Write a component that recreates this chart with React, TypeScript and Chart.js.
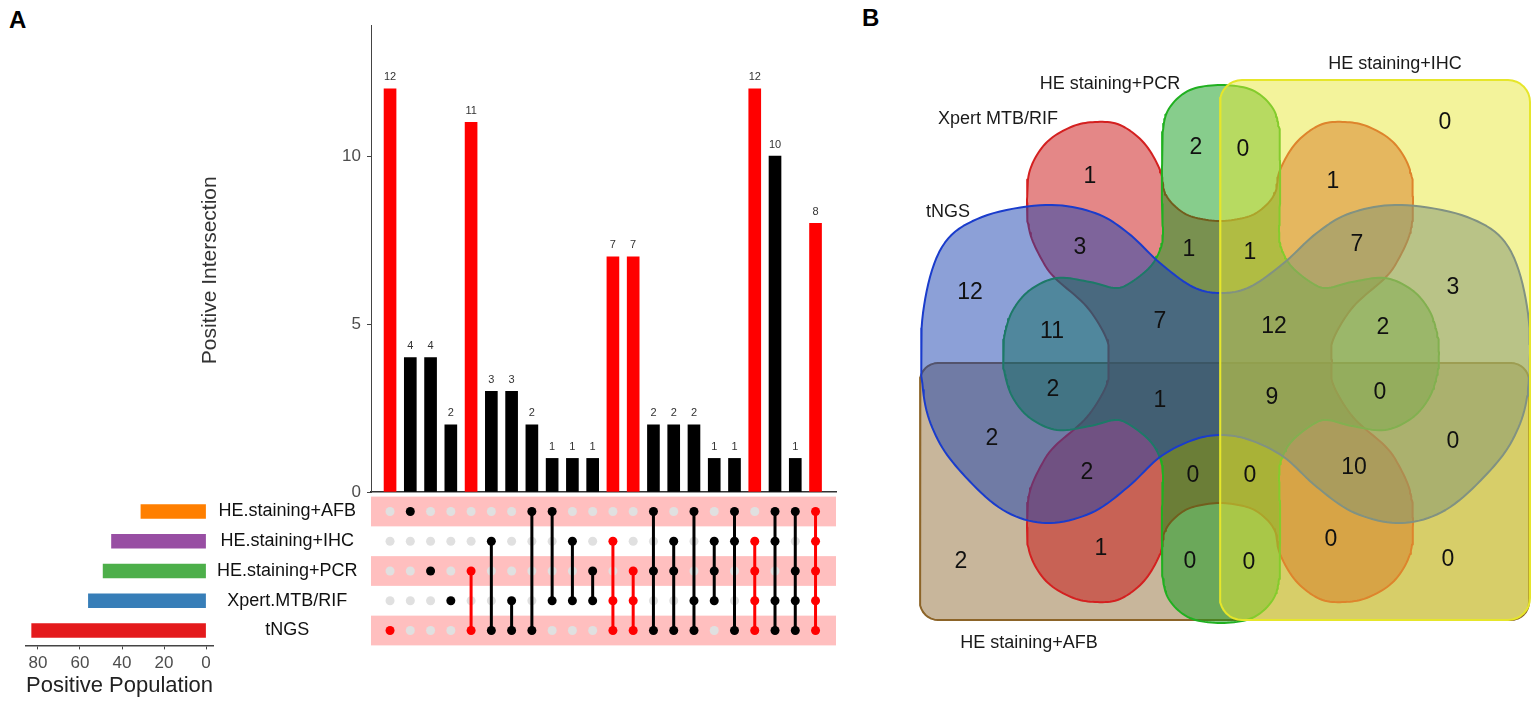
import React, { useEffect, useRef } from "react";
import { Chart, registerables } from "chart.js";

Chart.register(...registerables);

const FONT = '"Liberation Sans", Arial, Helvetica, sans-serif';
Chart.defaults.font.family = FONT;

// ---------------- Panel A: UpSet data ----------------
const setNames = ["HE.staining+AFB", "HE.staining+IHC", "HE.staining+PCR", "Xpert.MTB/RIF", "tNGS"];
const setSizes = [31, 45, 49, 56, 83];
const setColors = ["#ff7f00", "#984ea3", "#4daf4a", "#377eb8", "#e41a1c"];
const sizeTicks = [0, 20, 40, 60, 80];

const intersectionCounts = [12, 4, 4, 2, 11, 3, 3, 2, 1, 1, 1, 7, 7, 2, 2, 2, 1, 1, 12, 10, 1, 8];
// row indices into setNames for each intersection column
const intersectionMembers = [
  [4], [0], [2], [3], [2, 4], [1, 4], [3, 4], [0, 4], [0, 3], [1, 3], [2, 3],
  [1, 3, 4], [2, 3, 4], [0, 2, 4], [1, 2, 4], [0, 3, 4], [1, 2, 3], [0, 1, 4],
  [1, 2, 3, 4], [0, 1, 3, 4], [0, 2, 3, 4], [0, 1, 2, 3, 4],
];
const highlighted = [
  true, false, false, false, true, false, false, false, false, false, false,
  true, true, false, false, false, false, false, true, false, false, true,
];
const countTicks = [0, 5, 10];

// ---------------- Panel B: Venn data ----------------
const vennSetNames = ["tNGS", "Xpert MTB/RIF", "HE staining+PCR", "HE staining+IHC", "HE staining+AFB"];
const vennRegionSets = [
  "I", "P", "PI", "X", "XI", "TX", "XP", "XPI", "TXI", "T", "TI", "TP", "TXP", "TXPI", "TPI",
  "TPA", "TXPA", "TXPIA", "TPIA", "TA", "TIA", "TXA", "XPA", "XPIA", "TXIA", "A", "XA", "PA",
  "PIA", "XIA", "IA",
];
const vennRegionCounts = [
  0, 2, 0, 1, 1, 3, 1, 1, 7, 12, 3, 11, 7, 12, 2,
  2, 1, 9, 0, 2, 0, 2, 0, 0, 10, 2, 1, 0,
  0, 0, 0,
];

// ---------------- layout (venn geometry, label anchors) ----------------
const vennLabelPos = [
  [225, 239], [-24, 214], [23, 212], [-130, 185], [113, 180], [-140, 114], [-31, 112], [30, 109],
  [137, 117], [-250, 69], [233, 74], [-168, 30], [-60, 40], [54, 35], [163, 34],
  [-167, -28], [-60, -39], [52, -36], [160, -31], [-228, -77], [233, -80], [-133, -111],
  [-27, -114], [30, -114], [134, -106], [-259, -200], [-119, -187], [-30, -200],
  [29, -201], [111, -178], [228, -198],
];
const vennSetLabelPos = [[-272, 150], [-222, 243], [-110, 278], [175, 298], [-191, -281]];

const redQuadrant = [
  [0, 141], [-27, 145], [-43, 154], [-55, 169], [-60, 192], [-76, 219], [-100, 237], [-125, 240],
  [-149, 235], [-174, 219], [-190, 192], [-193, 159], [-190, 129], [-178, 102], [-165, 84],
  [-133, 55], [-113, 22], [-112, 0],
];
const greenQuadrant = [
  [0, 269], [-31, 264], [-51, 247], [-58, 225], [-59, 190], [-59, 150], [-58, 121], [-61, 104],
  [-71, 87], [-91, 71], [-106, 66], [-131, 72], [-164, 76], [-191, 64], [-208, 44], [-216, 21],
  [-218, 0],
];
const blueHalf = [
  [0, 71], [-28, 77], [-61, 101], [-93, 131], [-126, 151], [-175, 159], [-239, 147], [-279, 117],
  [-298, 51], [-298, -26], [-285, -72], [-259, -109], [-218, -146], [-175, -159], [-130, -149],
  [-93, -123], [-61, -93], [-28, -76], [0, -71],
];

type P = { x: number; y: number };

function mirrorQuadrant(q: number[][]): number[][] {
  const bl = q.slice().reverse().slice(1).map(([x, y]) => [x, -y]);
  const br = q.slice(1).map(([x, y]) => [-x, -y]);
  const tr = q.slice().reverse().slice(1, -1).map(([x, y]) => [-x, y]);
  return [...q, ...bl, ...br, ...tr];
}

function mirrorHalf(h: number[][], rightScale: number): number[][] {
  const right = h.slice(1, -1).reverse().map(([x, y]) => [-x * rightScale, y]);
  return [...h, ...right];
}

function smoothClosed(pts: number[][], dx: number, dy: number, n = 10): P[] {
  const out: P[] = [];
  const L = pts.length;
  for (let i = 0; i < L; i++) {
    const p0 = pts[(i - 1 + L) % L], p1 = pts[i], p2 = pts[(i + 1) % L], p3 = pts[(i + 2) % L];
    for (let k = 0; k < n; k++) {
      const t = k / n, t2 = t * t, t3 = t2 * t;
      const f = (j: number) =>
        0.5 * (2 * p1[j] + (-p0[j] + p2[j]) * t + (2 * p0[j] - 5 * p1[j] + 4 * p2[j] - p3[j]) * t2 +
          (-p0[j] + 3 * p1[j] - 3 * p2[j] + p3[j]) * t3);
      out.push({ x: f(0) + dx, y: f(1) + dy });
    }
  }
  out.push({ ...out[0] });
  return out;
}

function roundedRect(x0: number, y0: number, x1: number, y1: number, r: number): P[] {
  const pts: P[] = [];
  const corners = [[x1 - r, y1 - r, 0], [x0 + r, y1 - r, 90], [x0 + r, y0 + r, 180], [x1 - r, y0 + r, 270]];
  for (const [cx, cy, a0] of corners) {
    for (let k = 0; k <= 8; k++) {
      const a = ((a0 + (k * 90) / 8) * Math.PI) / 180;
      pts.push({ x: cx + r * Math.cos(a), y: cy + r * Math.sin(a) });
    }
  }
  pts.push({ ...pts[0] });
  return pts;
}

// ---------------- plugins ----------------
const barValuesPlugin = {
  id: "barValues",
  afterDatasetsDraw(chart: any) {
    const ctx = chart.ctx;
    const meta = chart.getDatasetMeta(0);
    ctx.save();
    ctx.font = `11px ${FONT}`;
    ctx.fillStyle = "#333";
    ctx.textAlign = "center";
    ctx.textBaseline = "bottom";
    meta.data.forEach((el: any, i: number) => {
      ctx.fillText(String(intersectionCounts[i]), el.x, el.y - 6);
    });
    ctx.restore();
  },
};

const yTitlePlugin = {
  id: "yTitle",
  afterDraw(chart: any) {
    const { ctx, chartArea, scales } = chart;
    const cx = chartArea.left - 161;
    const cy = scales.y.getPixelForValue(6.6);
    ctx.save();
    ctx.translate(cx, cy);
    ctx.rotate(-Math.PI / 2);
    ctx.font = `21px ${FONT}`;
    ctx.fillStyle = "#333";
    ctx.textAlign = "center";
    ctx.textBaseline = "middle";
    ctx.fillText("Positive Intersection", 0, 0);
    ctx.restore();
  },
};

const bandsPlugin = {
  id: "bands",
  beforeDatasetsDraw(chart: any) {
    const { ctx, chartArea, scales } = chart;
    ctx.save();
    ctx.fillStyle = "rgba(255, 0, 0, 0.25)";
    setNames.forEach((_, r) => {
      if (r % 2 !== 0) return;
      const y0 = scales.y.getPixelForValue(r - 0.5);
      const y1 = scales.y.getPixelForValue(r + 0.5);
      ctx.fillRect(chartArea.left, Math.min(y0, y1), chartArea.right - chartArea.left, Math.abs(y1 - y0));
    });
    ctx.restore();
  },
};

const vennTextPlugin = {
  id: "vennText",
  afterDatasetsDraw(chart: any) {
    const { ctx, scales } = chart;
    const px = (v: number) => scales.x.getPixelForValue(v);
    const py = (v: number) => scales.y.getPixelForValue(v);
    ctx.save();
    ctx.textAlign = "center";
    ctx.textBaseline = "middle";
    ctx.fillStyle = "#111";
    ctx.font = `23px ${FONT}`;
    vennRegionCounts.forEach((v, i) => {
      ctx.fillText(String(v), px(vennLabelPos[i][0]), py(vennLabelPos[i][1]));
    });
    ctx.font = `18px ${FONT}`;
    ctx.fillStyle = "#1a1a1a";
    vennSetNames.forEach((s, i) => {
      ctx.fillText(s, px(vennSetLabelPos[i][0]), py(vennSetLabelPos[i][1]));
    });
    ctx.restore();
  },
};

const X_MIN = -0.94;
const X_MAX = 22.01;

export default function App() {
  const barRef = useRef<HTMLCanvasElement>(null);
  const matRef = useRef<HTMLCanvasElement>(null);
  const setRef = useRef<HTMLCanvasElement>(null);
  const vennRef = useRef<HTMLCanvasElement>(null);

  useEffect(() => {
    const charts: Chart[] = [];

    // ---- intersection bars ----
    charts.push(
      new Chart(barRef.current as HTMLCanvasElement, {
        type: "bar",
        data: {
          datasets: [
            {
              data: intersectionCounts.map((v, i) => ({ x: i, y: v })),
              backgroundColor: intersectionCounts.map((_, i) => (highlighted[i] ? "#ff0000" : "#000000")),
              barThickness: 12,
              borderWidth: 0,
            } as any,
          ],
        },
        options: {
          animation: false,
          responsive: false,
          events: [],
          layout: { padding: { top: 15, right: 9, bottom: 8, left: 0 } },
          plugins: { legend: { display: false }, tooltip: { enabled: false } },
          scales: {
            x: {
              type: "linear",
              min: X_MIN,
              max: X_MAX,
              offset: false,
              grid: { display: false },
              ticks: { display: false },
              border: { display: true, color: "#333", width: 1.5 },
              afterFit: (a: any) => {
                a.height = 0;
              },
            },
            y: {
              type: "linear",
              min: 0,
              max: 13.9,
              afterBuildTicks: (a: any) => {
                a.ticks = countTicks.map((v) => ({ value: v }));
              },
              ticks: { color: "#4d4d4d", font: { family: FONT, size: 17 }, padding: 6 },
              grid: { display: true, drawOnChartArea: false, drawTicks: true, tickLength: 4, color: "#444" },
              border: { display: true, color: "#444", width: 1 },
              afterFit: (a: any) => {
                a.width = 191;
                a.paddingTop = 0;
                a.paddingBottom = 0;
              },
            },
          } as any,
        },
        plugins: [barValuesPlugin, yTitlePlugin],
      })
    );

    // ---- matrix ----
    const grayPts: P[] = [];
    const memberPts: P[] = [];
    const memberColors: string[] = [];
    intersectionMembers.forEach((m, c) => {
      setNames.forEach((_, r) => {
        if (m.includes(r)) {
          memberPts.push({ x: c, y: r });
          memberColors.push(highlighted[c] ? "#ff0000" : "#000000");
        } else {
          grayPts.push({ x: c, y: r });
        }
      });
    });
    const lineSets: any[] = [];
    intersectionMembers.forEach((m, c) => {
      if (m.length < 2) return;
      const col = highlighted[c] ? "#ff0000" : "#000000";
      lineSets.push({
        data: [
          { x: c, y: Math.min(...m) },
          { x: c, y: Math.max(...m) },
        ],
        borderColor: col,
        borderWidth: 3,
        pointRadius: 0,
        showLine: true,
        fill: false,
        order: 2,
      });
    });
    charts.push(
      new Chart(matRef.current as HTMLCanvasElement, {
        type: "line",
        data: {
          datasets: [
            {
              data: grayPts,
              showLine: false,
              pointRadius: 4.5,
              pointBackgroundColor: "#e0e0e0",
              pointBorderWidth: 0,
              order: 3,
            } as any,
            ...lineSets,
            {
              data: memberPts,
              showLine: false,
              pointRadius: 4.5,
              pointBackgroundColor: memberColors,
              pointBorderWidth: 0,
              order: 1,
            } as any,
          ],
        },
        options: {
          animation: false,
          responsive: false,
          events: [],
          layout: { padding: { top: 6.6, right: 9, bottom: 4.6, left: 191 } },
          plugins: { legend: { display: false }, tooltip: { enabled: false } },
          scales: {
            x: { type: "linear", min: X_MIN, max: X_MAX, display: false },
            y: { type: "linear", min: -0.5, max: 4.5, reverse: true, display: false },
          },
        },
        plugins: [bandsPlugin],
      })
    );

    // ---- set sizes ----
    charts.push(
      new Chart(setRef.current as HTMLCanvasElement, {
        type: "bar",
        data: {
          labels: setNames,
          datasets: [
            { data: setSizes, backgroundColor: setColors, barThickness: 14, borderWidth: 0 } as any,
          ],
        },
        options: {
          indexAxis: "y",
          animation: false,
          responsive: false,
          events: [],
          layout: { padding: { top: 6.6, right: 0, bottom: 0, left: 26 } },
          plugins: { legend: { display: false }, tooltip: { enabled: false } },
          scales: {
            x: {
              type: "linear",
              reverse: true,
              min: -3.3,
              max: 85.7,
              afterBuildTicks: (a: any) => {
                a.ticks = sizeTicks.map((v) => ({ value: v }));
              },
              ticks: { color: "#4d4d4d", font: { family: FONT, size: 17 }, padding: 4, maxRotation: 0 },
              grid: { display: true, drawOnChartArea: false, drawTicks: true, tickLength: 4, color: "#444" },
              border: { display: true, color: "#444", width: 1.5 },
              title: {
                display: true,
                text: "Positive Population",
                color: "#222",
                font: { family: FONT, size: 22 },
                padding: { top: 0, bottom: 3 },
              },
              afterFit: (a: any) => {
                a.height = 56.6;
                a.paddingLeft = 0;
                a.paddingRight = 0;
              },
            },
            y: {
              type: "category",
              position: "right",
              grid: { display: false, drawTicks: false },
              border: { display: false },
              ticks: { crossAlign: "center", padding: 4, color: "#111", font: { family: FONT, size: 18 } },
              afterFit: (a: any) => {
                a.width = 157;
                a.paddingTop = 0;
                a.paddingBottom = 0;
              },
            },
          } as any,
        },
      })
    );

    // ---- venn ----
    const afb = roundedRect(-300, -258, 309, -1, 18);
    const ihc = roundedRect(0, -258, 310, 282, 22);
    const red = smoothClosed(mirrorQuadrant(redQuadrant), 0, 0);
    const green = smoothClosed(mirrorQuadrant(greenQuadrant), 1, 8);
    const blue = smoothClosed(mirrorHalf(blueHalf, 1.03), 1, -2);
    const shape = (data: P[], fillC: string, lineC: string, order: number) => ({
      data,
      fill: "shape",
      backgroundColor: fillC,
      borderColor: lineC,
      borderWidth: 2,
      borderJoinStyle: "round",
      pointRadius: 0,
      tension: 0,
      showLine: true,
      order,
    });
    charts.push(
      new Chart(vennRef.current as HTMLCanvasElement, {
        type: "line",
        data: {
          datasets: [
            shape(afb, "rgba(145,109,55,0.5)", "#8c6428", 5),
            shape(red, "rgba(201,15,15,0.5)", "#d42020", 4),
            shape(green, "rgba(15,155,25,0.5)", "#20b020", 3),
            shape(blue, "rgba(25,65,175,0.5)", "#1a3ccc", 2),
            shape(ihc, "rgba(231,231,55,0.5)", "#e6e62a", 1),
          ] as any,
        },
        options: {
          animation: false,
          responsive: false,
          events: [],
          layout: { padding: 0 },
          plugins: { legend: { display: false }, tooltip: { enabled: false } },
          scales: {
            x: { type: "linear", min: -320, max: 315, display: false },
            y: { type: "linear", min: -308, max: 322, display: false },
          },
        },
        plugins: [vennTextPlugin],
      })
    );

    return () => charts.forEach((c) => c.destroy());
  }, []);

  const panelLabel: React.CSSProperties = {
    position: "absolute",
    fontSize: 24,
    fontWeight: "bold",
    lineHeight: 1,
    fontFamily: FONT,
    color: "#000",
  };

  return (
    <div
      style={{
        position: "absolute",
        left: 0,
        top: 0,
        width: 1535,
        height: 702,
        background: "#fff",
        overflow: "hidden",
        fontFamily: FONT,
      }}
    >
      <div style={{ ...panelLabel, left: 9, top: 8 }}>A</div>
      <div style={{ ...panelLabel, left: 862, top: 6 }}>B</div>
      <canvas ref={barRef} width={665} height={490} style={{ position: "absolute", left: 180, top: 10 }} />
      <canvas ref={matRef} width={665} height={160} style={{ position: "absolute", left: 180, top: 490 }} />
      <canvas ref={setRef} width={370} height={212} style={{ position: "absolute", left: 0, top: 490 }} />
      <canvas ref={vennRef} width={635} height={630} style={{ position: "absolute", left: 900, top: 40 }} />
    </div>
  );
}
